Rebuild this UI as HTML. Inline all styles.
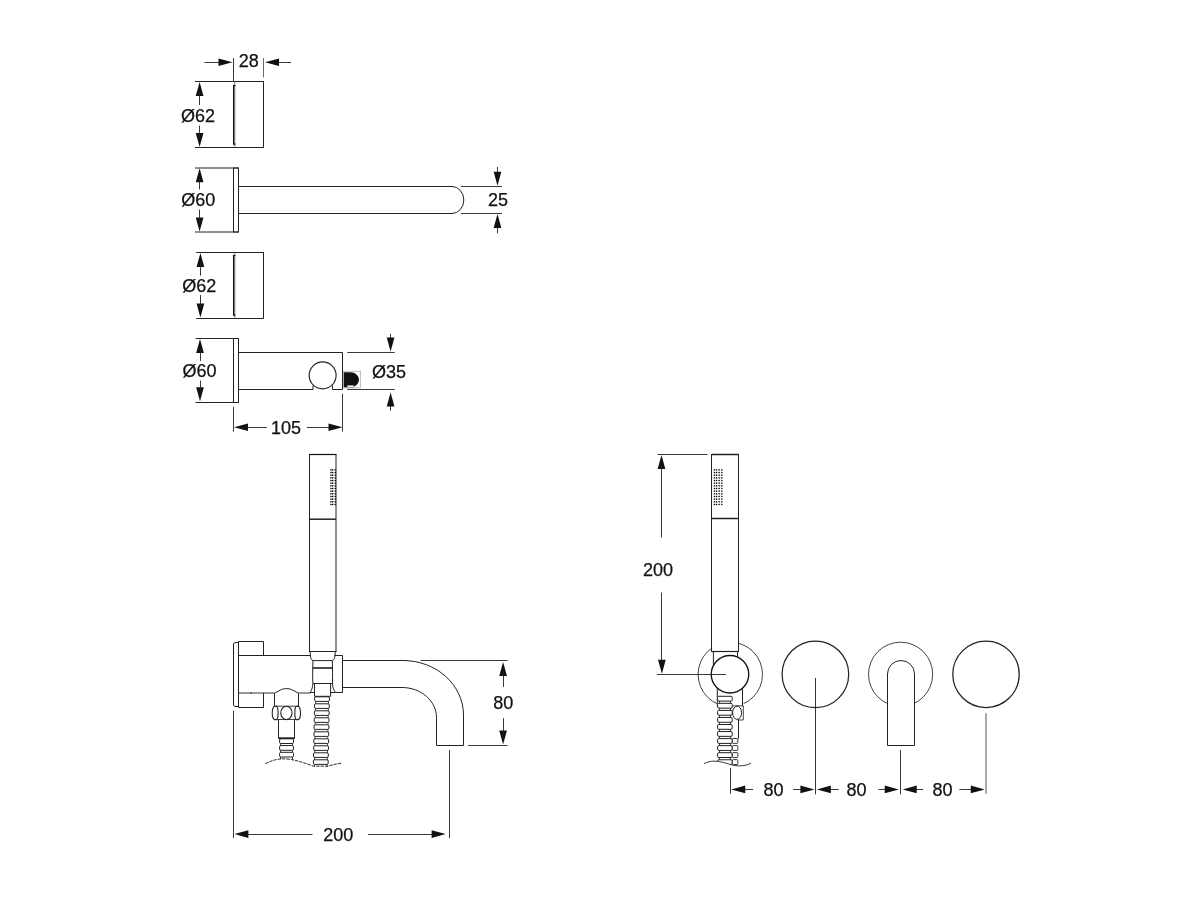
<!DOCTYPE html>
<html><head><meta charset="utf-8"><style>
html,body{margin:0;padding:0;background:#fff;}
svg{display:block;will-change:transform;}
text{font-family:"Liberation Sans",sans-serif;fill:#111;stroke:#111;stroke-width:0.25px;}
</style></head><body>
<svg width="1200" height="900" viewBox="0 0 1200 900">
<rect width="1200" height="900" fill="#fff"/>
<line x1="195" y1="81.5" x2="263.75" y2="81.5" stroke="#222" stroke-width="1.0"/>
<line x1="195" y1="147.5" x2="263.75" y2="147.5" stroke="#222" stroke-width="1.0"/>
<line x1="263.5" y1="81.25" x2="263.5" y2="147.25" stroke="#222" stroke-width="1.0"/>
<line x1="234.8" y1="81.5" x2="234.8" y2="147.5" stroke="#777" stroke-width="1.0"/>
<path d="M235.4,85.5 L233.6,85.5 L233.6,144 L235.4,144" stroke="#111" stroke-width="1.25" fill="none"/>
<line x1="233.5" y1="58" x2="233.5" y2="81.25" stroke="#222" stroke-width="0.9"/>
<line x1="263.5" y1="58" x2="263.5" y2="77.5" stroke="#555" stroke-width="0.9"/>
<line x1="204.4" y1="62.5" x2="220" y2="62.5" stroke="#222" stroke-width="0.9"/>
<path d="M232.5,62.25 L218.5,58.4 L218.5,66.1 Z" fill="#111"/>
<line x1="279" y1="62.5" x2="291" y2="62.5" stroke="#222" stroke-width="0.9"/>
<path d="M265,62.25 L279,58.4 L279,66.1 Z" fill="#111"/>
<text x="248.7" y="66.9" font-size="18" text-anchor="middle">28</text>
<path d="M199.6,82 L195.75,96 L203.45,96 Z" fill="#111"/>
<path d="M199.6,147 L195.75,133 L203.45,133 Z" fill="#111"/>
<line x1="199.5" y1="92" x2="199.5" y2="105" stroke="#222" stroke-width="0.9"/>
<line x1="199.5" y1="125.6" x2="199.5" y2="137" stroke="#222" stroke-width="0.9"/>
<text x="198" y="121.9" font-size="18" text-anchor="middle">Ø62</text>
<line x1="195" y1="168.0" x2="238.5" y2="168.0" stroke="#222" stroke-width="1.0"/>
<line x1="195" y1="232.0" x2="238.5" y2="232.0" stroke="#222" stroke-width="1.0"/>
<rect x="233.5" y="168.0" width="5.0" height="64.0" stroke="#222" stroke-width="1.0" fill="none"/>
<path d="M238.5,186.5 L452,186.5 A11.8,13.5 0 0 1 452,213.5 L238.5,213.5" stroke="#222" stroke-width="1.0" fill="none"/>
<line x1="461" y1="186.5" x2="502" y2="186.5" stroke="#222" stroke-width="0.9"/>
<line x1="461" y1="213.5" x2="502" y2="213.5" stroke="#222" stroke-width="0.9"/>
<line x1="497.5" y1="167" x2="497.5" y2="175" stroke="#222" stroke-width="0.9"/>
<path d="M497.5,185.75 L493.65,171.75 L501.35,171.75 Z" fill="#111"/>
<line x1="497.5" y1="225" x2="497.5" y2="233.25" stroke="#222" stroke-width="0.9"/>
<path d="M497.5,213.9 L493.65,227.9 L501.35,227.9 Z" fill="#111"/>
<text x="497.9" y="206.4" font-size="18" text-anchor="middle">25</text>
<path d="M199.6,168.25 L195.75,182.25 L203.45,182.25 Z" fill="#111"/>
<path d="M199.6,231.4 L195.75,217.4 L203.45,217.4 Z" fill="#111"/>
<line x1="199.5" y1="178.25" x2="199.5" y2="189.5" stroke="#222" stroke-width="0.9"/>
<line x1="199.5" y1="209.5" x2="199.5" y2="221.4" stroke="#222" stroke-width="0.9"/>
<text x="198.3" y="206.4" font-size="18" text-anchor="middle">Ø60</text>
<line x1="196.25" y1="252.5" x2="263.75" y2="252.5" stroke="#222" stroke-width="1.0"/>
<line x1="196.25" y1="318.5" x2="263.75" y2="318.5" stroke="#222" stroke-width="1.0"/>
<line x1="263.5" y1="252.1" x2="263.5" y2="318.4" stroke="#222" stroke-width="1.0"/>
<line x1="234.8" y1="252.5" x2="234.8" y2="318.5" stroke="#777" stroke-width="1.0"/>
<path d="M235.4,255.5 L233.6,255.5 L233.6,315 L235.4,315" stroke="#111" stroke-width="1.25" fill="none"/>
<path d="M200.4,253 L196.55,267 L204.25,267 Z" fill="#111"/>
<path d="M200.4,317.5 L196.55,303.5 L204.25,303.5 Z" fill="#111"/>
<line x1="200.5" y1="263" x2="200.5" y2="275.6" stroke="#222" stroke-width="0.9"/>
<line x1="200.5" y1="295" x2="200.5" y2="307.5" stroke="#222" stroke-width="0.9"/>
<text x="199.3" y="291.9" font-size="18" text-anchor="middle">Ø62</text>
<line x1="195.6" y1="338.5" x2="238.5" y2="338.5" stroke="#222" stroke-width="1.0"/>
<line x1="195.6" y1="402.5" x2="238.5" y2="402.5" stroke="#222" stroke-width="1.0"/>
<rect x="233.5" y="338.5" width="5.0" height="64.0" stroke="#222" stroke-width="1.0" fill="none"/>
<path d="M238.5,352.5 L342.5,352.5 L342.5,389.5 L332.5,389.5 L332.5,385.5" stroke="#222" stroke-width="1.0" fill="none"/>
<path d="M238.5,389.5 L313,389.5 L313,385.5" stroke="#222" stroke-width="1.0" fill="none"/>
<circle cx="322.65" cy="375.4" r="13.45" stroke="#222" stroke-width="1.15" fill="none"/>
<rect x="343.5" y="371.3" width="17" height="16.6" stroke="#bbb" stroke-width="0.9" fill="none"/>
<path d="M343.9,372.2 L350.5,372.2 C355,372.2 358.9,375.5 358.9,379.7 C358.9,384 355,387.2 350.5,387.2 L343.9,387.2 Z" fill="#111"/>
<rect x="347.4" y="385.4" width="6.3" height="1.9" stroke="#888" stroke-width="0.7" fill="#fff"/>
<line x1="347.25" y1="352.5" x2="394.75" y2="352.5" stroke="#222" stroke-width="0.9"/>
<line x1="347.25" y1="389.5" x2="394.75" y2="389.5" stroke="#222" stroke-width="0.9"/>
<line x1="390.5" y1="333.75" x2="390.5" y2="340" stroke="#222" stroke-width="0.9"/>
<path d="M390.6,351.5 L386.75,337.5 L394.45000000000005,337.5 Z" fill="#111"/>
<line x1="390.5" y1="403" x2="390.5" y2="410.6" stroke="#222" stroke-width="0.9"/>
<path d="M390.6,392.5 L386.75,406.5 L394.45000000000005,406.5 Z" fill="#111"/>
<text x="389.1" y="378.2" font-size="18" text-anchor="middle">Ø35</text>
<path d="M200,339 L196.15,353 L203.85,353 Z" fill="#111"/>
<path d="M200,401.25 L196.15,387.25 L203.85,387.25 Z" fill="#111"/>
<line x1="200.5" y1="349" x2="200.5" y2="361" stroke="#222" stroke-width="0.9"/>
<line x1="200.5" y1="380.6" x2="200.5" y2="391.25" stroke="#222" stroke-width="0.9"/>
<text x="199.6" y="376.8" font-size="18" text-anchor="middle">Ø60</text>
<line x1="233.5" y1="406.9" x2="233.5" y2="431.5" stroke="#222" stroke-width="0.9"/>
<line x1="342.5" y1="393.75" x2="342.5" y2="431.5" stroke="#222" stroke-width="0.9"/>
<path d="M234,427.25 L248,423.4 L248,431.1 Z" fill="#111"/>
<line x1="246" y1="427.5" x2="266.9" y2="427.5" stroke="#222" stroke-width="0.9"/>
<line x1="306.9" y1="427.5" x2="330" y2="427.5" stroke="#222" stroke-width="0.9"/>
<path d="M342.5,427.25 L328.5,423.4 L328.5,431.1 Z" fill="#111"/>
<text x="286.1" y="433.6" font-size="18" text-anchor="middle">105</text>
<path d="M309.5,454.5 L309.5,651.5 M336,454.5 L336,651.5" stroke="#222" stroke-width="1.0" fill="none"/>
<line x1="309" y1="454.5" x2="336.5" y2="454.5" stroke="#111" stroke-width="1.2"/>
<line x1="309" y1="651.5" x2="336.5" y2="651.5" stroke="#222" stroke-width="1.0"/>
<line x1="309.5" y1="519.2" x2="336" y2="519.2" stroke="#222" stroke-width="1.5"/>
<rect x="330.30" y="469.20" width="1.35" height="1.35" fill="#000"/>
<rect x="332.00" y="469.20" width="1.35" height="1.35" fill="#000"/>
<rect x="334.60" y="469.20" width="1.35" height="1.35" fill="#000"/>
<rect x="330.30" y="471.86" width="1.35" height="1.35" fill="#000"/>
<rect x="332.00" y="471.86" width="1.35" height="1.35" fill="#000"/>
<rect x="334.60" y="471.86" width="1.35" height="1.35" fill="#000"/>
<rect x="330.30" y="474.52" width="1.35" height="1.35" fill="#000"/>
<rect x="332.00" y="474.52" width="1.35" height="1.35" fill="#000"/>
<rect x="334.60" y="474.52" width="1.35" height="1.35" fill="#000"/>
<rect x="330.30" y="477.18" width="1.35" height="1.35" fill="#000"/>
<rect x="332.00" y="477.18" width="1.35" height="1.35" fill="#000"/>
<rect x="334.60" y="477.18" width="1.35" height="1.35" fill="#000"/>
<rect x="330.30" y="479.84" width="1.35" height="1.35" fill="#000"/>
<rect x="332.00" y="479.84" width="1.35" height="1.35" fill="#000"/>
<rect x="334.60" y="479.84" width="1.35" height="1.35" fill="#000"/>
<rect x="330.30" y="482.50" width="1.35" height="1.35" fill="#000"/>
<rect x="332.00" y="482.50" width="1.35" height="1.35" fill="#000"/>
<rect x="334.60" y="482.50" width="1.35" height="1.35" fill="#000"/>
<rect x="330.30" y="485.16" width="1.35" height="1.35" fill="#000"/>
<rect x="332.00" y="485.16" width="1.35" height="1.35" fill="#000"/>
<rect x="334.60" y="485.16" width="1.35" height="1.35" fill="#000"/>
<rect x="330.30" y="487.82" width="1.35" height="1.35" fill="#000"/>
<rect x="332.00" y="487.82" width="1.35" height="1.35" fill="#000"/>
<rect x="334.60" y="487.82" width="1.35" height="1.35" fill="#000"/>
<rect x="330.30" y="490.48" width="1.35" height="1.35" fill="#000"/>
<rect x="332.00" y="490.48" width="1.35" height="1.35" fill="#000"/>
<rect x="334.60" y="490.48" width="1.35" height="1.35" fill="#000"/>
<rect x="330.30" y="493.14" width="1.35" height="1.35" fill="#000"/>
<rect x="332.00" y="493.14" width="1.35" height="1.35" fill="#000"/>
<rect x="334.60" y="493.14" width="1.35" height="1.35" fill="#000"/>
<rect x="330.30" y="495.80" width="1.35" height="1.35" fill="#000"/>
<rect x="332.00" y="495.80" width="1.35" height="1.35" fill="#000"/>
<rect x="334.60" y="495.80" width="1.35" height="1.35" fill="#000"/>
<rect x="330.30" y="498.46" width="1.35" height="1.35" fill="#000"/>
<rect x="332.00" y="498.46" width="1.35" height="1.35" fill="#000"/>
<rect x="334.60" y="498.46" width="1.35" height="1.35" fill="#000"/>
<rect x="330.30" y="501.12" width="1.35" height="1.35" fill="#000"/>
<rect x="332.00" y="501.12" width="1.35" height="1.35" fill="#000"/>
<rect x="334.60" y="501.12" width="1.35" height="1.35" fill="#000"/>
<rect x="330.30" y="503.78" width="1.35" height="1.35" fill="#000"/>
<rect x="332.00" y="503.78" width="1.35" height="1.35" fill="#000"/>
<rect x="334.60" y="503.78" width="1.35" height="1.35" fill="#000"/>
<path d="M233.5,643.5 L235,642.5 L238.5,642.5 L238.5,706.5 L235,706.5 L233.5,705.5 Z" stroke="#222" stroke-width="1.0" fill="none"/>
<path d="M238.5,655.5 L238.5,641.5 L263.5,641.5 L263.5,655.5" stroke="#222" stroke-width="1.0" fill="none"/>
<path d="M238.5,693 L238.5,707.5 L263.5,707.5 L263.5,693" stroke="#222" stroke-width="1.0" fill="none"/>
<line x1="238.5" y1="655.5" x2="310.5" y2="655.5" stroke="#222" stroke-width="1.0"/>
<line x1="238.5" y1="693" x2="274.4" y2="693" stroke="#333" stroke-width="1.0"/>
<line x1="298.4" y1="693" x2="310.5" y2="693" stroke="#333" stroke-width="1.0"/>
<path d="M251.3,692.2 L251.3,693.4" stroke="#222" stroke-width="1.2" fill="none"/>
<path d="M334.5,655.5 L342.5,655.5 L342.5,692.5 L336,692.5" stroke="#222" stroke-width="1.0" fill="none"/>
<path d="M310.2,651.5 L310.3,655 C310.5,658.2 311.5,660 313,660.6 L332.3,660.6 C333.8,660 334.9,658.2 335.1,655 L335.2,651.5" stroke="#222" stroke-width="1.0" fill="none"/>
<path d="M313,660.6 C312.6,670 312.6,676 312.8,683.2 M332.3,660.6 C332.6,670 332.6,676 332.5,683.2" stroke="#222" stroke-width="1.0" fill="none"/>
<line x1="312.8" y1="668" x2="332.5" y2="668" stroke="#111" stroke-width="1.5"/>
<line x1="312.8" y1="683.5" x2="332.5" y2="683.5" stroke="#222" stroke-width="1.0"/>
<path d="M312.8,683.5 C312.8,688 311.5,690 310.2,692.5 L314.5,692.5 M332.5,683.5 C332.6,688 333.8,690 335.6,692.5 L330.6,692.5" stroke="#222" stroke-width="1.0" fill="none"/>
<path d="M314.5,683.5 L314.5,696.3 L330.6,696.3 L330.6,683.5" stroke="#222" stroke-width="1.0" fill="none"/>
<rect x="314.60" y="696.80" width="14.8" height="4.6" rx="1.2" stroke="#222" stroke-width="1" fill="none"/>
<path d="M315.60,701.40 L315.60,703.80 M328.40,701.40 L328.40,703.80" stroke="#222" stroke-width="0.9"/>
<rect x="314.47" y="703.80" width="14.8" height="4.6" rx="1.2" stroke="#222" stroke-width="1" fill="none"/>
<path d="M315.47,708.40 L315.47,710.80 M328.27,708.40 L328.27,710.80" stroke="#222" stroke-width="0.9"/>
<rect x="314.33" y="710.80" width="14.8" height="4.6" rx="1.2" stroke="#222" stroke-width="1" fill="none"/>
<path d="M315.33,715.40 L315.33,717.80 M328.13,715.40 L328.13,717.80" stroke="#222" stroke-width="0.9"/>
<rect x="314.20" y="717.80" width="14.8" height="4.6" rx="1.2" stroke="#222" stroke-width="1" fill="none"/>
<path d="M315.20,722.40 L315.20,724.80 M328.00,722.40 L328.00,724.80" stroke="#222" stroke-width="0.9"/>
<rect x="314.07" y="724.80" width="14.8" height="4.6" rx="1.2" stroke="#222" stroke-width="1" fill="none"/>
<path d="M315.07,729.40 L315.07,731.80 M327.87,729.40 L327.87,731.80" stroke="#222" stroke-width="0.9"/>
<rect x="313.93" y="731.80" width="14.8" height="4.6" rx="1.2" stroke="#222" stroke-width="1" fill="none"/>
<path d="M314.93,736.40 L314.93,738.80 M327.73,736.40 L327.73,738.80" stroke="#222" stroke-width="0.9"/>
<rect x="313.80" y="738.80" width="14.8" height="4.6" rx="1.2" stroke="#222" stroke-width="1" fill="none"/>
<path d="M314.80,743.40 L314.80,745.80 M327.60,743.40 L327.60,745.80" stroke="#222" stroke-width="0.9"/>
<rect x="313.67" y="745.80" width="14.8" height="4.6" rx="1.2" stroke="#222" stroke-width="1" fill="none"/>
<path d="M314.67,750.40 L314.67,752.80 M327.47,750.40 L327.47,752.80" stroke="#222" stroke-width="0.9"/>
<rect x="313.53" y="752.80" width="14.8" height="4.6" rx="1.2" stroke="#222" stroke-width="1" fill="none"/>
<path d="M314.53,757.40 L314.53,759.80 M327.33,757.40 L327.33,759.80" stroke="#222" stroke-width="0.9"/>
<rect x="313.40" y="759.80" width="14.8" height="4.6" rx="1.2" stroke="#222" stroke-width="1" fill="none"/>
<path d="M314.40,764.40 L314.40,766.80 M327.20,764.40 L327.20,766.80" stroke="#222" stroke-width="0.9"/>
<path d="M274.5,706 L274.5,693.2 L281.5,689.5 C284,688.3 289,688.3 291.5,689.5 L298.5,693.2 L298.5,706" stroke="#222" stroke-width="1.0" fill="none"/>
<line x1="274" y1="706.2" x2="298.5" y2="706.2" stroke="#444" stroke-width="1.0"/>
<line x1="274" y1="719.5" x2="298.5" y2="719.5" stroke="#444" stroke-width="1.0"/>
<path d="M274.5,706.2 C271.5,708 271.5,718 274.5,719.6 L276.6,719.6 C278.6,718 278.6,708 276.6,706.2 Z" stroke="#222" stroke-width="1.1" fill="none"/>
<ellipse cx="286.4" cy="712.9" rx="5.6" ry="6.7" stroke="#222" stroke-width="1.1" fill="none"/>
<path d="M296.3,706.2 C294.3,708 294.3,718 296.3,719.6 L298.4,719.6 C301.2,718 301.2,708 298.4,706.2 Z" stroke="#222" stroke-width="1.1" fill="none"/>
<path d="M278.5,719.6 L278.5,738.2 L294.5,738.2 L294.5,719.6" stroke="#222" stroke-width="1.0" fill="none"/>
<line x1="278.5" y1="738.2" x2="294.5" y2="738.2" stroke="#111" stroke-width="1.4"/>
<rect x="279.6" y="738.80" width="13.9" height="4.7" rx="1.2" stroke="#222" stroke-width="1" fill="none"/>
<rect x="279.6" y="745.55" width="13.9" height="4.7" rx="1.2" stroke="#222" stroke-width="1" fill="none"/>
<rect x="279.6" y="752.30" width="13.9" height="4.7" rx="1.2" stroke="#222" stroke-width="1" fill="none"/>
<path d="M280.6,743.5 L280.6,745.5 M292.5,743.5 L292.5,745.5 M280.6,750.2 L280.6,752.3 M292.5,750.2 L292.5,752.3 M280.6,757 L280.6,759.3 M292.5,757 L292.5,759.3" stroke="#222" stroke-width="0.9"/>
<path d="M265.2,763.7 C272,760.5 276,759 283,758.8 C292,758.7 302,762 313.5,766.2 L327.5,766.2 C333,764.6 337,763.8 342,763" stroke="#222" stroke-width="0.95" fill="none" stroke-dasharray="3.4 1.0"/>
<path d="M342.5,660.5 L403,660.5 C436.4,660.5 463.5,685 463.5,715 L463.5,745.5 L436.5,745.5 L436.5,717.5 C436.5,701 421,687.5 402,687.5 L342.5,687.5" stroke="#222" stroke-width="1.0" fill="none"/>
<line x1="420.6" y1="660.5" x2="507.5" y2="660.5" stroke="#222" stroke-width="0.9"/>
<line x1="468.1" y1="745.5" x2="507.5" y2="745.5" stroke="#222" stroke-width="0.9"/>
<path d="M503.1,661.9 L499.25,675.9 L506.95000000000005,675.9 Z" fill="#111"/>
<path d="M503.1,744.4 L499.25,730.4 L506.95000000000005,730.4 Z" fill="#111"/>
<line x1="503.5" y1="671.9" x2="503.5" y2="686.9" stroke="#222" stroke-width="0.9"/>
<line x1="503.5" y1="718.1" x2="503.5" y2="734.4" stroke="#222" stroke-width="0.9"/>
<text x="503.25" y="708.5" font-size="18" text-anchor="middle">80</text>
<line x1="233.5" y1="710.6" x2="233.5" y2="838.1" stroke="#222" stroke-width="0.9"/>
<line x1="449.5" y1="750" x2="449.5" y2="838.1" stroke="#222" stroke-width="0.9"/>
<path d="M234.4,834.1 L248.4,830.25 L248.4,837.95 Z" fill="#111"/>
<line x1="246" y1="834.5" x2="312.5" y2="834.5" stroke="#222" stroke-width="0.9"/>
<line x1="368.1" y1="834.5" x2="434" y2="834.5" stroke="#222" stroke-width="0.9"/>
<path d="M445.6,834.1 L431.6,830.25 L431.6,837.95 Z" fill="#111"/>
<text x="338.3" y="840.6" font-size="18" text-anchor="middle">200</text>
<line x1="657.5" y1="454.5" x2="707.5" y2="454.5" stroke="#222" stroke-width="0.9"/>
<path d="M661.5,455 L657.65,469 L665.35,469 Z" fill="#111"/>
<line x1="661.5" y1="466" x2="661.5" y2="537.5" stroke="#222" stroke-width="0.9"/>
<text x="658.1" y="575.7" font-size="18" text-anchor="middle">200</text>
<line x1="661.5" y1="592.5" x2="661.5" y2="662" stroke="#222" stroke-width="0.9"/>
<path d="M661.9,673.75 L658.05,659.75 L665.75,659.75 Z" fill="#111"/>
<circle cx="730.3" cy="674.4" r="32.2" stroke="#222" stroke-width="0.85" fill="none"/>
<rect x="711.5" y="454.5" width="27.0" height="197.0" stroke="#222" stroke-width="1.0" fill="#fff"/>
<line x1="711.9" y1="454.5" x2="738.5" y2="454.5" stroke="#222" stroke-width="1.5"/>
<line x1="711.9" y1="518.5" x2="738.5" y2="518.5" stroke="#222" stroke-width="1.5"/>
<rect x="713.80" y="469.20" width="1.35" height="1.35" fill="#000"/>
<rect x="715.90" y="469.20" width="1.35" height="1.35" fill="#000"/>
<rect x="718.50" y="469.20" width="1.35" height="1.35" fill="#000"/>
<rect x="721.10" y="469.20" width="1.35" height="1.35" fill="#000"/>
<rect x="713.80" y="471.86" width="1.35" height="1.35" fill="#000"/>
<rect x="715.90" y="471.86" width="1.35" height="1.35" fill="#000"/>
<rect x="718.50" y="471.86" width="1.35" height="1.35" fill="#000"/>
<rect x="721.10" y="471.86" width="1.35" height="1.35" fill="#000"/>
<rect x="713.80" y="474.52" width="1.35" height="1.35" fill="#000"/>
<rect x="715.90" y="474.52" width="1.35" height="1.35" fill="#000"/>
<rect x="718.50" y="474.52" width="1.35" height="1.35" fill="#000"/>
<rect x="721.10" y="474.52" width="1.35" height="1.35" fill="#000"/>
<rect x="713.80" y="477.18" width="1.35" height="1.35" fill="#000"/>
<rect x="715.90" y="477.18" width="1.35" height="1.35" fill="#000"/>
<rect x="718.50" y="477.18" width="1.35" height="1.35" fill="#000"/>
<rect x="721.10" y="477.18" width="1.35" height="1.35" fill="#000"/>
<rect x="713.80" y="479.84" width="1.35" height="1.35" fill="#000"/>
<rect x="715.90" y="479.84" width="1.35" height="1.35" fill="#000"/>
<rect x="718.50" y="479.84" width="1.35" height="1.35" fill="#000"/>
<rect x="721.10" y="479.84" width="1.35" height="1.35" fill="#000"/>
<rect x="713.80" y="482.50" width="1.35" height="1.35" fill="#000"/>
<rect x="715.90" y="482.50" width="1.35" height="1.35" fill="#000"/>
<rect x="718.50" y="482.50" width="1.35" height="1.35" fill="#000"/>
<rect x="721.10" y="482.50" width="1.35" height="1.35" fill="#000"/>
<rect x="713.80" y="485.16" width="1.35" height="1.35" fill="#000"/>
<rect x="715.90" y="485.16" width="1.35" height="1.35" fill="#000"/>
<rect x="718.50" y="485.16" width="1.35" height="1.35" fill="#000"/>
<rect x="721.10" y="485.16" width="1.35" height="1.35" fill="#000"/>
<rect x="713.80" y="487.82" width="1.35" height="1.35" fill="#000"/>
<rect x="715.90" y="487.82" width="1.35" height="1.35" fill="#000"/>
<rect x="718.50" y="487.82" width="1.35" height="1.35" fill="#000"/>
<rect x="721.10" y="487.82" width="1.35" height="1.35" fill="#000"/>
<rect x="713.80" y="490.48" width="1.35" height="1.35" fill="#000"/>
<rect x="715.90" y="490.48" width="1.35" height="1.35" fill="#000"/>
<rect x="718.50" y="490.48" width="1.35" height="1.35" fill="#000"/>
<rect x="721.10" y="490.48" width="1.35" height="1.35" fill="#000"/>
<rect x="713.80" y="493.14" width="1.35" height="1.35" fill="#000"/>
<rect x="715.90" y="493.14" width="1.35" height="1.35" fill="#000"/>
<rect x="718.50" y="493.14" width="1.35" height="1.35" fill="#000"/>
<rect x="721.10" y="493.14" width="1.35" height="1.35" fill="#000"/>
<rect x="713.80" y="495.80" width="1.35" height="1.35" fill="#000"/>
<rect x="715.90" y="495.80" width="1.35" height="1.35" fill="#000"/>
<rect x="718.50" y="495.80" width="1.35" height="1.35" fill="#000"/>
<rect x="721.10" y="495.80" width="1.35" height="1.35" fill="#000"/>
<rect x="713.80" y="498.46" width="1.35" height="1.35" fill="#000"/>
<rect x="715.90" y="498.46" width="1.35" height="1.35" fill="#000"/>
<rect x="718.50" y="498.46" width="1.35" height="1.35" fill="#000"/>
<rect x="721.10" y="498.46" width="1.35" height="1.35" fill="#000"/>
<rect x="713.80" y="501.12" width="1.35" height="1.35" fill="#000"/>
<rect x="715.90" y="501.12" width="1.35" height="1.35" fill="#000"/>
<rect x="718.50" y="501.12" width="1.35" height="1.35" fill="#000"/>
<rect x="721.10" y="501.12" width="1.35" height="1.35" fill="#000"/>
<rect x="713.80" y="503.78" width="1.35" height="1.35" fill="#000"/>
<rect x="715.90" y="503.78" width="1.35" height="1.35" fill="#000"/>
<rect x="718.50" y="503.78" width="1.35" height="1.35" fill="#000"/>
<rect x="721.10" y="503.78" width="1.35" height="1.35" fill="#000"/>
<path d="M713.4,651.25 L713.4,667 L737.5,667 L737.5,651.25" stroke="#222" stroke-width="1.0" fill="#fff"/>
<line x1="711.9" y1="651.5" x2="738.5" y2="651.5" stroke="#222" stroke-width="1.2"/>
<path d="M717.3,686 L717.3,770 L743.6,770 L743.6,686 Z" fill="#fff"/>
<path d="M717.3,686 L717.3,706 M742.5,686 L742.5,706" stroke="#222" stroke-width="1.0" fill="none"/>
<circle cx="730" cy="674.2" r="18.75" stroke="#111" stroke-width="1.35" fill="#fff"/>
<line x1="656.9" y1="674.5" x2="725.9" y2="674.5" stroke="#222" stroke-width="0.9"/>
<rect x="717.6" y="696.30" width="14.6" height="4.8" rx="1.2" stroke="#222" stroke-width="1" fill="#fff"/>
<path d="M719.6,701.10 L719.6,703.35 M730.4,701.10 L730.4,703.35" stroke="#222" stroke-width="0.9"/>
<rect x="717.6" y="703.35" width="14.6" height="4.8" rx="1.2" stroke="#222" stroke-width="1" fill="#fff"/>
<path d="M719.6,708.15 L719.6,710.40 M730.4,708.15 L730.4,710.40" stroke="#222" stroke-width="0.9"/>
<rect x="717.6" y="710.40" width="14.6" height="4.8" rx="1.2" stroke="#222" stroke-width="1" fill="#fff"/>
<path d="M719.6,715.20 L719.6,717.45 M730.4,715.20 L730.4,717.45" stroke="#222" stroke-width="0.9"/>
<rect x="717.6" y="717.45" width="14.6" height="4.8" rx="1.2" stroke="#222" stroke-width="1" fill="#fff"/>
<path d="M719.6,722.25 L719.6,724.50 M730.4,722.25 L730.4,724.50" stroke="#222" stroke-width="0.9"/>
<rect x="717.6" y="724.50" width="14.6" height="4.8" rx="1.2" stroke="#222" stroke-width="1" fill="#fff"/>
<path d="M719.6,729.30 L719.6,731.55 M730.4,729.30 L730.4,731.55" stroke="#222" stroke-width="0.9"/>
<rect x="717.6" y="731.55" width="14.6" height="4.8" rx="1.2" stroke="#222" stroke-width="1" fill="#fff"/>
<path d="M719.6,736.35 L719.6,738.60 M730.4,736.35 L730.4,738.60" stroke="#222" stroke-width="0.9"/>
<rect x="717.6" y="738.60" width="14.6" height="4.8" rx="1.2" stroke="#222" stroke-width="1" fill="#fff"/>
<path d="M719.6,743.40 L719.6,745.65 M730.4,743.40 L730.4,745.65" stroke="#222" stroke-width="0.9"/>
<rect x="717.6" y="745.65" width="14.6" height="4.8" rx="1.2" stroke="#222" stroke-width="1" fill="#fff"/>
<path d="M719.6,750.45 L719.6,752.70 M730.4,750.45 L730.4,752.70" stroke="#222" stroke-width="0.9"/>
<rect x="717.6" y="752.70" width="14.6" height="4.8" rx="1.2" stroke="#222" stroke-width="1" fill="#fff"/>
<path d="M719.6,757.50 L719.6,759.75 M730.4,757.50 L730.4,759.75" stroke="#222" stroke-width="0.9"/>
<rect x="717.6" y="759.75" width="14.6" height="4.8" rx="1.2" stroke="#222" stroke-width="1" fill="#fff"/>
<path d="M732.5,705.8 L743.3,705.8 L743.3,720 L737.5,720" stroke="#333" stroke-width="0.9" fill="none"/>
<ellipse cx="737.1" cy="712.75" rx="4.5" ry="6.6" stroke="#222" stroke-width="1.0" fill="none"/>
<path d="M738.5,719.5 L738.5,738.5" stroke="#222" stroke-width="1.0" fill="none"/>
<rect x="732.4" y="738.50" width="5.4" height="4.9" rx="0.8" stroke="#222" stroke-width="0.9" fill="#fff"/>
<rect x="732.4" y="745.55" width="5.4" height="4.9" rx="0.8" stroke="#222" stroke-width="0.9" fill="#fff"/>
<rect x="732.4" y="752.60" width="5.4" height="4.9" rx="0.8" stroke="#222" stroke-width="0.9" fill="#fff"/>
<rect x="732.4" y="759.65" width="5.4" height="4.9" rx="0.8" stroke="#222" stroke-width="0.9" fill="#fff"/>
<path d="M703.9,763.6 C707.5,762 710.5,761.1 714,761.1 C720,761.1 726,763.2 733.3,765.3 C740,766.6 746,765.8 751.1,763.3 L751.1,767.5 L703.9,767.5 Z" fill="#fff"/>
<path d="M703.9,763.6 C707.5,762 710.5,761.1 714,761.1 C720,761.1 726,763.2 733.3,765.3 C740,766.6 746,765.8 751.1,763.3" stroke="#222" stroke-width="0.9" fill="none"/>
<circle cx="815.4" cy="674.3" r="33.3" stroke="#222" stroke-width="1.25" fill="none"/>
<line x1="815.5" y1="678" x2="815.5" y2="794.4" stroke="#222" stroke-width="0.9"/>
<circle cx="900.6" cy="674.3" r="32.1" stroke="#222" stroke-width="0.85" fill="none"/>
<path d="M887.5,745.5 L887.5,674 A13.5,13.5 0 0 1 914.5,674 L914.5,745.5 Z" fill="#fff" stroke="#222" stroke-width="1"/>
<line x1="900.5" y1="750" x2="900.5" y2="794.4" stroke="#222" stroke-width="0.9"/>
<circle cx="986.0" cy="674.3" r="33.2" stroke="#222" stroke-width="1.25" fill="none"/>
<line x1="986.0" y1="713.2" x2="986.0" y2="793.75" stroke="#555" stroke-width="1.0"/>
<line x1="730.5" y1="768" x2="730.5" y2="793.75" stroke="#222" stroke-width="0.9"/>
<path d="M731.25,789.4 L745.25,785.55 L745.25,793.25 Z" fill="#111"/>
<line x1="743" y1="789.5" x2="753.1" y2="789.5" stroke="#222" stroke-width="0.9"/>
<text x="773.5" y="796.25" font-size="18" text-anchor="middle">80</text>
<line x1="793.1" y1="789.5" x2="802" y2="789.5" stroke="#222" stroke-width="0.9"/>
<path d="M814.4,789.4 L800.4,785.55 L800.4,793.25 Z" fill="#111"/>
<path d="M816.9,789.4 L830.9,785.55 L830.9,793.25 Z" fill="#111"/>
<line x1="828" y1="789.5" x2="838.75" y2="789.5" stroke="#222" stroke-width="0.9"/>
<text x="856.4" y="795.6" font-size="18" text-anchor="middle">80</text>
<line x1="878.5" y1="789.5" x2="887" y2="789.5" stroke="#222" stroke-width="0.9"/>
<path d="M898.75,789.4 L884.75,785.55 L884.75,793.25 Z" fill="#111"/>
<path d="M902.75,789.4 L916.75,785.55 L916.75,793.25 Z" fill="#111"/>
<line x1="914" y1="789.5" x2="923.1" y2="789.5" stroke="#222" stroke-width="0.9"/>
<text x="942.5" y="795.6" font-size="18" text-anchor="middle">80</text>
<line x1="959.4" y1="789.5" x2="972" y2="789.5" stroke="#222" stroke-width="0.9"/>
<path d="M984.75,789.4 L970.75,785.55 L970.75,793.25 Z" fill="#111"/>
</svg></body></html>
